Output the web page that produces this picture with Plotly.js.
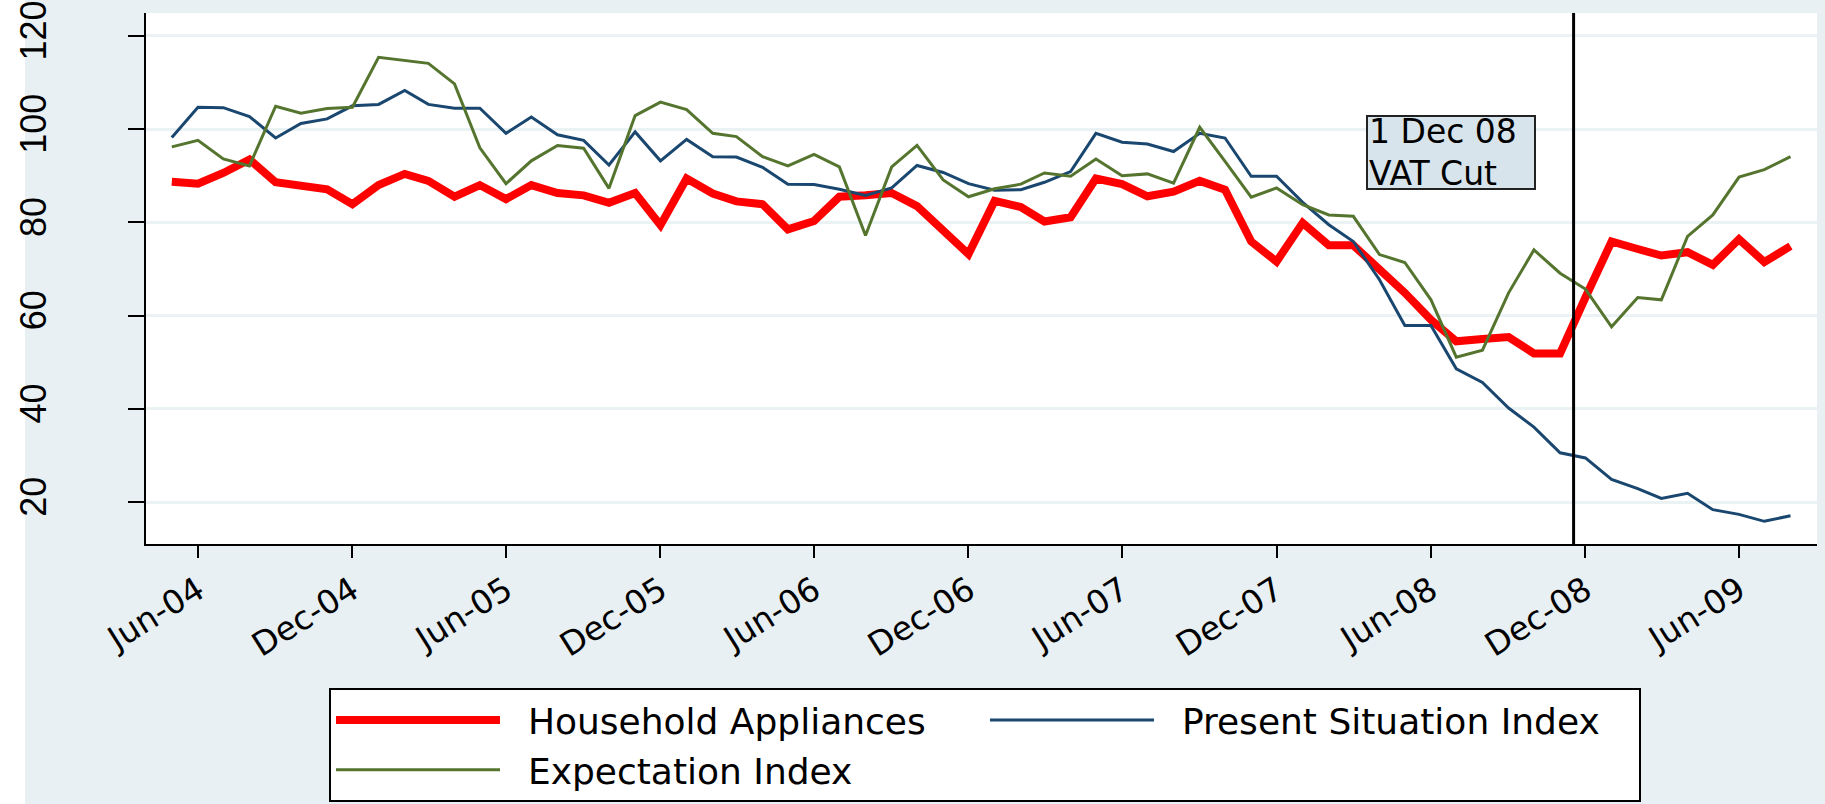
<!DOCTYPE html>
<html>
<head>
<meta charset="utf-8">
<script src="https://cdn.plot.ly/plotly-3.0.1.min.js"></script>
<style>html,body{margin:0;padding:0;background:#E8F0F3;}#chart{width:1825px;height:804px;}</style>
</head>
<body>
<div id="chart"></div>
<script>
// Monthly observations (plotted mid-month), May 2004 - Aug 2009
var months = [
  '2004-05-15','2004-06-15','2004-07-15','2004-08-15','2004-09-15','2004-10-15','2004-11-15','2004-12-15',
  '2005-01-15','2005-02-15','2005-03-15','2005-04-15','2005-05-15','2005-06-15','2005-07-15','2005-08-15',
  '2005-09-15','2005-10-15','2005-11-15','2005-12-15','2006-01-15','2006-02-15','2006-03-15','2006-04-15',
  '2006-05-15','2006-06-15','2006-07-15','2006-08-15','2006-09-15','2006-10-15','2006-11-15','2006-12-15',
  '2007-01-15','2007-02-15','2007-03-15','2007-04-15','2007-05-15','2007-06-15','2007-07-15','2007-08-15',
  '2007-09-15','2007-10-15','2007-11-15','2007-12-15','2008-01-15','2008-02-15','2008-03-15','2008-04-15',
  '2008-05-15','2008-06-15','2008-07-15','2008-08-15','2008-09-15','2008-10-15','2008-11-15','2008-12-15',
  '2009-01-15','2009-02-15','2009-03-15','2009-04-15','2009-05-15','2009-06-15','2009-07-15','2009-08-15'
];

var householdAppliances = [
  88.7, 88.3, 90.6, 93.5, 88.6, 87.8, 87.1, 83.9,
  88.0, 90.4, 88.9, 85.5, 88.0, 85.0, 88.0, 86.3,
  85.8, 84.2, 86.3, 79.4, 89.4, 86.2, 84.5, 83.9,
  78.5, 80.3, 85.5, 85.8, 86.3, 83.5, 78.0, 73.2,
  84.6, 83.3, 80.2, 81.1, 89.4, 88.2, 85.6, 86.6,
  88.9, 87.0, 75.9, 71.6, 79.9, 75.1, 75.1, 69.9,
  64.9, 59.1, 54.5, 55.0, 55.4, 51.9, 51.9, 63.9,
  75.9, 74.3, 72.9, 73.6, 70.9, 76.4, 71.5, 74.9
];

var presentSituationIndex = [
  98.2, 104.7, 104.6, 102.7, 98.1, 101.2, 102.2, 105.0,
  105.3, 108.3, 105.3, 104.5, 104.5, 99.1, 102.6, 98.8,
  97.6, 92.3, 99.4, 93.2, 97.8, 94.1, 94.0, 91.8,
  88.2, 88.1, 87.1, 85.8, 87.4, 92.2, 90.7, 88.3,
  86.9, 87.0, 88.6, 90.9, 99.1, 97.2, 96.8, 95.2,
  99.1, 98.1, 89.9, 89.9, 84.3, 79.5, 75.9, 67.7,
  57.9, 57.9, 48.6, 45.7, 40.2, 36.1, 30.6, 29.5,
  24.9, 22.9, 20.8, 21.9, 18.4, 17.4, 15.9, 17.1
];

var expectationIndex = [
  96.2, 97.6, 93.6, 92.1, 104.9, 103.4, 104.4, 104.7,
  115.4, 114.8, 114.1, 109.7, 96.0, 88.3, 93.2, 96.5,
  95.9, 87.3, 102.9, 105.8, 104.2, 99.1, 98.4, 94.1,
  92.1, 94.6, 91.9, 77.2, 91.9, 96.5, 89.1, 85.5,
  87.2, 88.2, 90.6, 89.9, 93.6, 90.0, 90.4, 88.4,
  100.4, 93.1, 85.4, 87.4, 83.8, 81.6, 81.3, 73.1,
  71.4, 63.4, 51.1, 52.6, 64.9, 74.1, 69.1, 65.7,
  57.6, 63.9, 63.4, 77.0, 81.6, 89.7, 91.3, 94.1
];

var seriesNames = ['Household Appliances', 'Present Situation Index', 'Expectation Index'];

var xTickVals = ['2004-06-15','2004-12-15','2005-06-15','2005-12-15','2006-06-15','2006-12-15',
                 '2007-06-15','2007-12-15','2008-06-15','2008-12-15','2009-06-15'];
var xTickText = ['Jun-04','Dec-04','Jun-05','Dec-05','Jun-06','Dec-06',
                 'Jun-07','Dec-07','Jun-08','Dec-08','Jun-09'];
var yTickVals = [20, 40, 60, 80, 100, 120];

var eventDate = '2008-12-01';
var eventLabel = '1 Dec 08<br>VAT Cut';

// small gap between legend sample line and its label
var gap = '\u00A0\u00A0';

var traces = [
  {x: months, y: householdAppliances, name: gap + seriesNames[0], type: 'scatter', mode: 'lines',
   line: {color: '#FF0000', width: 8}},
  {x: months, y: presentSituationIndex, name: gap + seriesNames[1], type: 'scatter', mode: 'lines',
   line: {color: '#1A476F', width: 3}},
  {x: months, y: expectationIndex, name: gap + seriesNames[2], type: 'scatter', mode: 'lines',
   line: {color: '#55752F', width: 3}}
];

var L = 146, R = 8, T = 13, B = 260, W = 1825, H = 804;
var pw = W - L - R, ph = H - T - B;
function px2x(p) { return (p - L) / pw; }
function py2y(p) { return (H - B - p) / ph; }

var layout = {
  width: W, height: H,
  paper_bgcolor: '#E8F0F3',
  plot_bgcolor: '#FFFFFF',
  margin: {l: L, r: R, t: T, b: B, autoexpand: false},
  font: {family: 'DejaVu Sans', color: '#000000'},
  showlegend: true,
  xaxis: {
    type: 'date',
    range: ['2004-04-14 10:00', '2009-09-15 10:00'],
    tickmode: 'array', tickvals: xTickVals, ticktext: xTickText,
    tickangle: -32,
    ticks: 'outside', ticklen: 12, tickwidth: 2, tickcolor: '#000000',
    showline: true, linecolor: '#000000', linewidth: 2,
    showgrid: false, zeroline: false,
    tickfont: {family: 'DejaVu Sans', size: 33, color: '#000000'},
    ticklabelstandoff: 0
  },
  yaxis: {
    range: [11.04, 124.9],
    tickmode: 'array', tickvals: yTickVals,
    tickangle: -90,
    ticks: 'outside', ticklen: 16, tickwidth: 2, tickcolor: '#000000',
    showline: true, linecolor: '#000000', linewidth: 2,
    showgrid: true, gridcolor: '#EAF2F3', gridwidth: 3,
    zeroline: false,
    tickfont: {family: 'Liberation Sans', size: 36, color: '#000000'},
    ticklabelstandoff: 68
  },
  legend: {
    orientation: 'h',
    x: px2x(329), xanchor: 'left',
    y: py2y(688), yanchor: 'top',
    bgcolor: '#FFFFFF', bordercolor: '#000000', borderwidth: 2,
    font: {family: 'DejaVu Sans', size: 36, color: '#000000'},
    itemwidth: 164,
    entrywidth: 475, entrywidthmode: 'pixels',
    traceorder: 'normal'
  },
  shapes: [
    {type: 'rect', xref: 'paper', yref: 'paper',
     x0: px2x(0), x1: px2x(25), y0: py2y(H), y1: py2y(0),
     fillcolor: '#FFFFFF', line: {width: 0}, layer: 'below'},
    {type: 'line', xref: 'x', yref: 'paper', x0: eventDate, x1: eventDate, y0: 0, y1: 1,
     line: {color: '#000000', width: 3}}
  ],
  annotations: [
    {xref: 'paper', yref: 'paper', x: px2x(1366), y: py2y(115), xanchor: 'left', yanchor: 'top',
     text: eventLabel, showarrow: false, align: 'left', valign: 'middle',
     width: 164, height: 69,
     bgcolor: '#D8E4EB', bordercolor: '#222222', borderwidth: 2, borderpad: 1,
     font: {family: 'DejaVu Sans', size: 33, color: '#000000'}}
  ]
};

Plotly.newPlot('chart', traces, layout, {displayModeBar: false, staticPlot: true});
</script>
</body>
</html>
